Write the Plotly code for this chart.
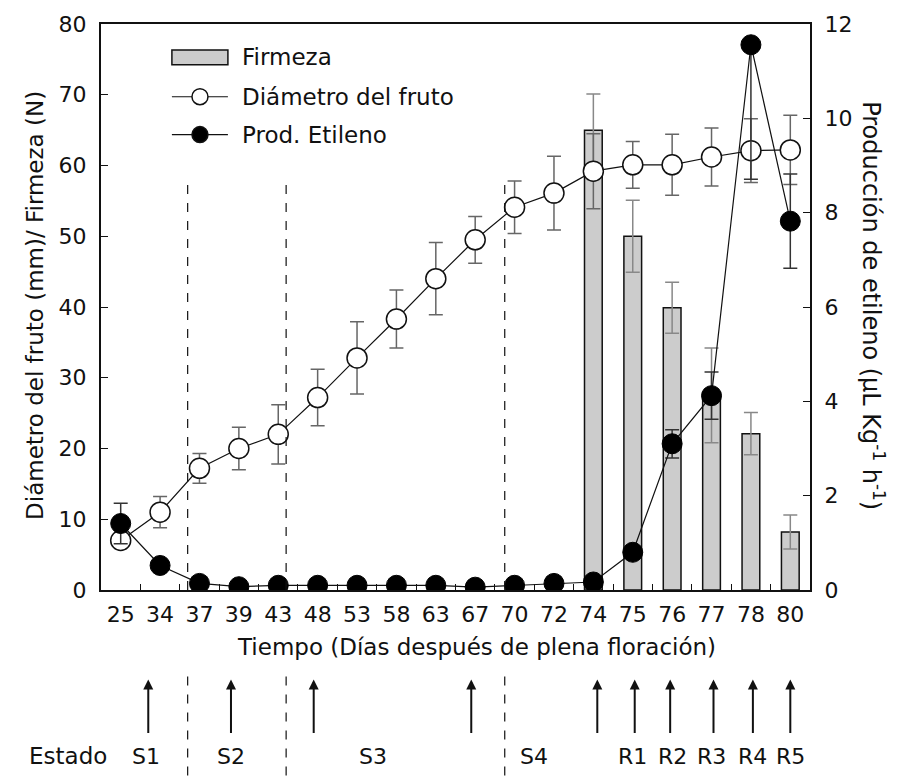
import plotly.graph_objects as go

# ---------------- data ----------------
days = ["25", "34", "37", "39", "43", "48", "53", "58", "63", "67",
        "70", "72", "74", "75", "76", "77", "78", "80"]
diametro = [7.0, 11.0, 17.2, 20.0, 22.0, 27.2, 32.8, 38.3, 44.0, 49.5,
            54.1, 56.1, 59.2, 60.1, 60.1, 61.2, 62.1, 62.2]
diametro_err = [0.6, 2.2, 2.1, 3.0, 4.2, 4.0, 5.1, 4.1, 5.1, 3.3,
                3.7, 5.2, 5.3, 3.3, 4.3, 4.1, 4.5, 4.9]
firmeza_days = ["74", "75", "76", "77", "78", "80"]
firmeza = [65.0, 50.0, 39.9, 27.5, 22.1, 8.2]
firmeza_err = [5.1, 5.1, 3.6, 6.7, 3.0, 2.4]
etileno = [1.41, 0.52, 0.14, 0.07, 0.10, 0.10, 0.10, 0.10, 0.10, 0.06,
           0.10, 0.14, 0.17, 0.80, 3.10, 4.12, 11.56, 7.82]
etileno_err_plus = [0.43, 0.10, 0.05, 0.05, 0.05, 0.05, 0.05, 0.05, 0.05, 0.05,
                    0.05, 0.05, 0.05, 0.10, 0.30, 0.50, 0.0, 1.00]
etileno_err_minus = [0.43, 0.10, 0.05, 0.05, 0.05, 0.05, 0.05, 0.05, 0.05, 0.05,
                     0.05, 0.05, 0.05, 0.10, 0.30, 0.50, 2.85, 1.00]

y_left_ticks = [0, 10, 20, 30, 40, 50, 60, 70, 80]
y_right_ticks = [0, 2, 4, 6, 8, 10, 12]

# stage boundaries (category index positions) and stage markers
stage_bounds = [1.7, 4.2, 9.75]
stage_bound_top = 58.5
arrow_pos = [0.7, 2.8, 4.9, 8.9, 12.1, 13.05, 13.95, 15.05, 16.05, 17.0]
stage_labels = ["S1", "S2", "S3", "S4", "R1", "R2", "R3", "R4", "R5"]
stage_label_pos = [0.64, 2.8, 6.4, 10.5, 13.0, 14.0, 15.0, 16.05, 17.0]

TICKFONT = dict(family="DejaVu Sans", size=22, color="#111")
TEXTFONT = dict(family="DejaVu Sans", size=23, color="#111")

fig = go.Figure()

fig.add_trace(go.Bar(
    x=firmeza_days, y=firmeza, width=0.45, name="Firmeza",
    marker=dict(color="#cccccc", line=dict(color="#111", width=1.5)),
    error_y=dict(type="data", array=firmeza_err, color="#888", thickness=1.5, width=7),
    showlegend=False,
))
fig.add_trace(go.Scatter(
    x=days, y=diametro, mode="lines+markers", name="Diámetro del fruto",
    line=dict(color="#111", width=1.2),
    marker=dict(size=20, color="white", line=dict(color="#111", width=1.5)),
    error_y=dict(type="data", array=diametro_err, color="#666", thickness=1.5, width=7),
    showlegend=False,
))
fig.add_trace(go.Scatter(
    x=days, y=etileno, mode="lines+markers", name="Prod. Etileno", yaxis="y2",
    line=dict(color="#111", width=1.2),
    marker=dict(size=20, color="black", line=dict(color="black", width=1)),
    error_y=dict(type="data", symmetric=False, array=etileno_err_plus,
                 arrayminus=etileno_err_minus, color="#333", thickness=1.5, width=7),
    showlegend=False,
))

shapes = []
annotations = []

# dashed stage boundaries in plot and in stage strip
for b in stage_bounds:
    shapes.append(dict(type="line", xref="x", yref="y", x0=b, x1=b, y0=0, y1=stage_bound_top,
                       line=dict(color="#111", width=1.2, dash="dash")))
    shapes.append(dict(type="line", xref="x", yref="paper", x0=b, x1=b, y0=-0.153, y1=-0.36,
                       line=dict(color="#111", width=1.2, dash="dash")))

# arrows
for a in arrow_pos:
    annotations.append(dict(xref="x", yref="paper", x=a, y=-0.158, text="", showarrow=True,
                            ax=0, ay=55, arrowhead=2, arrowsize=1, arrowwidth=2, arrowcolor="#111"))
# stage labels
for lab, p in zip(stage_labels, stage_label_pos):
    annotations.append(dict(xref="x", yref="paper", x=p, y=-0.294, text=lab, showarrow=False,
                            font=TICKFONT, xanchor="center", yanchor="middle"))
annotations.append(dict(xref="paper", yref="paper", x=-0.0465, y=-0.294, text="Estado",
                        showarrow=False, font=TEXTFONT, xanchor="center", yanchor="middle"))

# axis titles
annotations.append(dict(xref="paper", yref="paper", x=0.529, y=-0.100,
                        text="Tiempo (Días después de plena floración)", showarrow=False,
                        font=TEXTFONT, xanchor="center", yanchor="middle"))
annotations.append(dict(xref="paper", yref="paper", x=-0.093, y=0.502,
                        text="Diámetro del fruto (mm)/ Firmeza (N)", showarrow=False,
                        font=TEXTFONT, textangle=-90, xanchor="center", yanchor="middle"))
annotations.append(dict(xref="paper", yref="paper", x=1.089, y=0.503,
                        text="Producción de etileno (µL Kg<sup>-1</sup> h<sup>-1</sup>)",
                        showarrow=False, font=dict(family="DejaVu Sans", size=24, color="#111"),
                        textangle=90, xanchor="center", yanchor="middle"))

# manual legend
lx0, lx1, lxc = 0.100, 0.179, 0.1396
shapes.append(dict(type="rect", xref="paper", yref="paper", x0=lx0, x1=lx1, y0=0.928, y1=0.954,
                   fillcolor="#cccccc", line=dict(color="#111", width=1.5)))
for yy, fill in [(0.8715, "white"), (0.8046, "black")]:
    shapes.append(dict(type="line", xref="paper", yref="paper", x0=lx0, x1=lx1, y0=yy, y1=yy,
                       line=dict(color="#111", width=1.2)))
    shapes.append(dict(type="circle", xref="paper", yref="paper", xsizemode="pixel",
                       ysizemode="pixel", xanchor=lxc, yanchor=yy, x0=-8, x1=8, y0=-8, y1=8,
                       fillcolor=fill, line=dict(color="#111", width=1.5)))
for yy, txt in [(0.941, "Firmeza"), (0.8715, "Diámetro del fruto"), (0.8046, "Prod. Etileno")]:
    annotations.append(dict(xref="paper", yref="paper", x=0.196, y=yy, text=txt, showarrow=False,
                            font=TEXTFONT, xanchor="left", yanchor="middle"))

fig.update_layout(
    width=898, height=782,
    margin=dict(l=101, r=88, t=22, b=192),
    paper_bgcolor="white", plot_bgcolor="white",
    showlegend=False,
    xaxis=dict(type="category", categoryorder="array", categoryarray=days,
               range=[-0.5, 17.5], showline=True, linecolor="#111", linewidth=2, mirror=True,
               ticks="inside", tickson="boundaries", ticklen=6, tickcolor="#111",
               tickfont=TICKFONT, showgrid=False, zeroline=False, ticklabelstandoff=4),
    yaxis=dict(range=[0, 80], tickvals=y_left_ticks, showline=True, linecolor="#111",
               linewidth=2, ticks="inside", ticklen=7, tickcolor="#111", tickfont=TICKFONT,
               showgrid=False, zeroline=False, ticklabelstandoff=8),
    yaxis2=dict(range=[0, 12], tickvals=y_right_ticks, overlaying="y", side="right",
                showline=True, linecolor="#111", linewidth=2, ticks="inside", ticklen=7,
                tickcolor="#111", tickfont=TICKFONT, showgrid=False, zeroline=False,
                ticklabelstandoff=8),
    shapes=shapes,
    annotations=annotations,
)

fig.write_html(
    "out.html",
    config={"displayModeBar": False},
    post_script="document.body.style.margin='0';document.body.style.overflow='hidden';",
)
